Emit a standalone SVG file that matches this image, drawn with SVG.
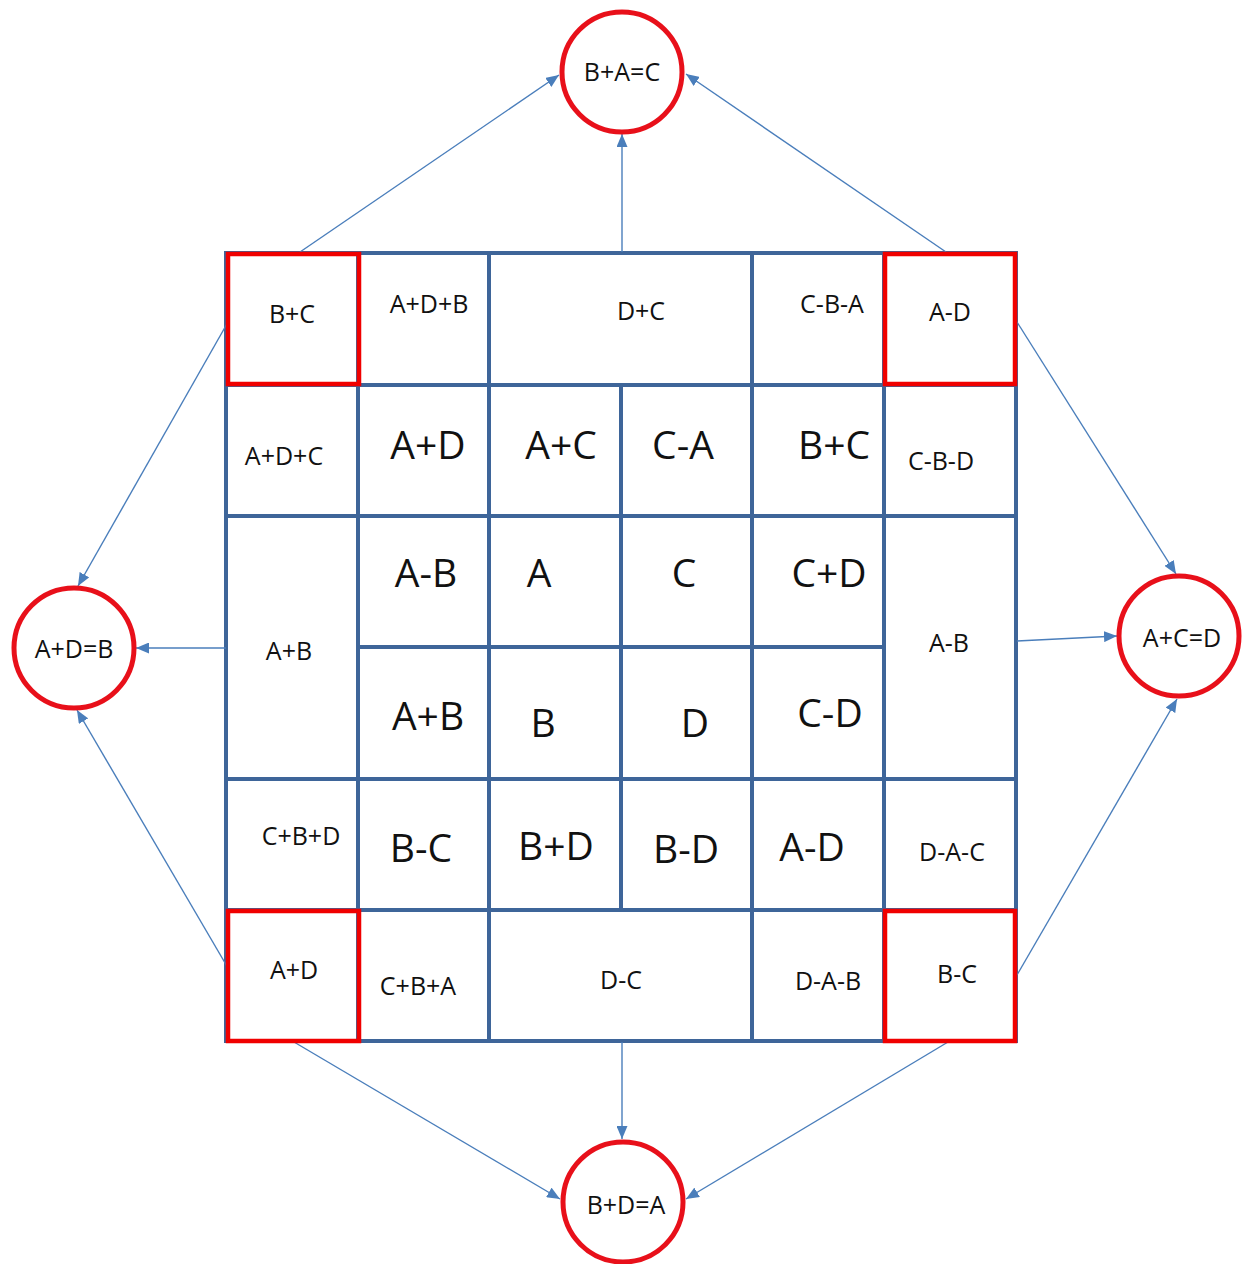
<svg xmlns="http://www.w3.org/2000/svg" width="1249" height="1264" viewBox="0 0 1249 1264">
<defs>
<style>
.g{stroke:#3E6599;stroke-width:4;fill:none;stroke-linecap:square}
.r{stroke:#F00000;stroke-width:4.5;fill:none}
.c{stroke:#E8101A;stroke-width:5;fill:#fff}
.a{stroke:#4A7EBB;stroke-width:1.4;fill:none}
text{font-family:"Open Sans","Liberation Sans",sans-serif;fill:#111;text-anchor:middle}
.s{font-size:25px}
.l{font-size:39px}
</style>
<marker id="ah" markerUnits="userSpaceOnUse" markerWidth="14" markerHeight="11" refX="13" refY="5.5" orient="auto">
<path d="M0,0 L13,5.5 L0,11 z" fill="#4A7EBB"/>
</marker>
</defs>
<rect width="1249" height="1264" fill="#fff"/>
<g id="grid" class="g">
<line x1="226" y1="253" x2="1016" y2="253"/>
<line x1="226" y1="385" x2="1016" y2="385"/>
<line x1="226" y1="516" x2="1016" y2="516"/>
<line x1="358" y1="647" x2="884" y2="647"/>
<line x1="226" y1="779" x2="1016" y2="779"/>
<line x1="226" y1="910" x2="1016" y2="910"/>
<line x1="226" y1="1041" x2="1016" y2="1041"/>
<line x1="226" y1="253" x2="226" y2="1041"/>
<line x1="358" y1="253" x2="358" y2="1041"/>
<line x1="489" y1="253" x2="489" y2="1041"/>
<line x1="621" y1="385" x2="621" y2="910"/>
<line x1="752" y1="253" x2="752" y2="1041"/>
<line x1="884" y1="253" x2="884" y2="1041"/>
<line x1="1016" y1="253" x2="1016" y2="1041"/>
</g>
<g id="connectors" class="a">
<line x1="300" y1="252" x2="559" y2="75" marker-end="url(#ah)"/>
<line x1="622" y1="252" x2="622" y2="134" marker-end="url(#ah)"/>
<line x1="946" y1="252" x2="686" y2="74" marker-end="url(#ah)"/>
<line x1="228" y1="322" x2="78" y2="586" marker-end="url(#ah)"/>
<line x1="226" y1="648" x2="136" y2="648" marker-end="url(#ah)"/>
<line x1="228" y1="968" x2="77" y2="710" marker-end="url(#ah)"/>
<line x1="1017" y1="322" x2="1176" y2="574" marker-end="url(#ah)"/>
<line x1="1017" y1="641" x2="1117" y2="636" marker-end="url(#ah)"/>
<line x1="1017" y1="975" x2="1177" y2="699" marker-end="url(#ah)"/>
<line x1="294" y1="1042" x2="560" y2="1199" marker-end="url(#ah)"/>
<line x1="622" y1="1042" x2="622" y2="1139" marker-end="url(#ah)"/>
<line x1="948" y1="1042" x2="686" y2="1199" marker-end="url(#ah)"/>
</g>
<g id="circle-top"><circle class="c" cx="622" cy="72" r="60"/><text class="s" x="622" y="81">B+A=C</text></g>
<g id="circle-left"><circle class="c" cx="74" cy="648" r="60"/><text class="s" x="74" y="658">A+D=B</text></g>
<g id="circle-right"><circle class="c" cx="1179" cy="636" r="60"/><text class="s" x="1182" y="647">A+C=D</text></g>
<g id="circle-bottom"><circle class="c" cx="623" cy="1202" r="60"/><text class="s" x="626" y="1214">B+D=A</text></g>
<g id="cell-r0c0"><rect class="r" x="228" y="254" width="131" height="130"/><text class="s" x="292" y="323">B+C</text></g>
<g id="cell-r0c1"><text class="s" x="429" y="313">A+D+B</text></g>
<g id="cell-r0c2"><text class="s" x="641" y="320">D+C</text></g>
<g id="cell-r0c4"><text class="s" x="832" y="313">C-B-A</text></g>
<g id="cell-r0c5"><rect class="r" x="885" y="254" width="130" height="130"/><text class="s" x="950" y="321">A-D</text></g>
<g id="cell-r1c0"><text class="s" x="284" y="465">A+D+C</text></g>
<g id="cell-r1c1"><text class="l" x="428" y="459">A+D</text></g>
<g id="cell-r1c2"><text class="l" x="561" y="459">A+C</text></g>
<g id="cell-r1c3"><text class="l" x="683" y="459">C-A</text></g>
<g id="cell-r1c4"><text class="l" x="834" y="459">B+C</text></g>
<g id="cell-r1c5"><text class="s" x="941" y="470">C-B-D</text></g>
<g id="cell-r2c0"><text class="s" x="289" y="660">A+B</text></g>
<g id="cell-r2c1"><text class="l" x="426" y="587">A-B</text></g>
<g id="cell-r2c2"><text class="l" x="539" y="587">A</text></g>
<g id="cell-r2c3"><text class="l" x="684" y="587">C</text></g>
<g id="cell-r2c4"><text class="l" x="829" y="587">C+D</text></g>
<g id="cell-r2c5"><text class="s" x="949" y="652">A-B</text></g>
<g id="cell-r3c1"><text class="l" x="428" y="730">A+B</text></g>
<g id="cell-r3c2"><text class="l" x="543" y="737">B</text></g>
<g id="cell-r3c3"><text class="l" x="695" y="737">D</text></g>
<g id="cell-r3c4"><text class="l" x="830" y="727">C-D</text></g>
<g id="cell-r4c0"><text class="s" x="301" y="845">C+B+D</text></g>
<g id="cell-r4c1"><text class="l" x="421" y="862">B-C</text></g>
<g id="cell-r4c2"><text class="l" x="556" y="860">B+D</text></g>
<g id="cell-r4c3"><text class="l" x="686" y="863">B-D</text></g>
<g id="cell-r4c4"><text class="l" x="812" y="861">A-D</text></g>
<g id="cell-r4c5"><text class="s" x="952" y="861">D-A-C</text></g>
<g id="cell-r5c0"><rect class="r" x="228" y="911" width="131" height="130"/><text class="s" x="294" y="979">A+D</text></g>
<g id="cell-r5c1"><text class="s" x="418" y="995">C+B+A</text></g>
<g id="cell-r5c2"><text class="s" x="621" y="989">D-C</text></g>
<g id="cell-r5c4"><text class="s" x="828" y="990">D-A-B</text></g>
<g id="cell-r5c5"><rect class="r" x="885" y="911" width="130" height="130"/><text class="s" x="957" y="983">B-C</text></g>
</svg>
